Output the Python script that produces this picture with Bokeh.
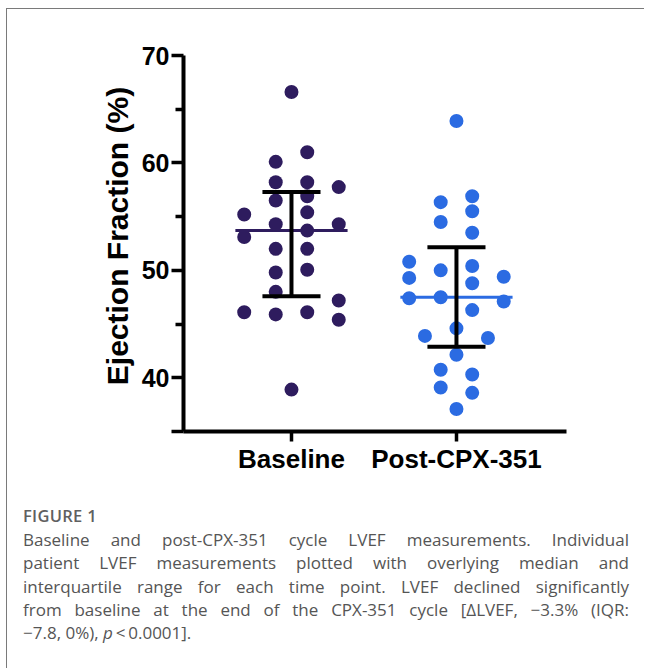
from bokeh.plotting import figure
from bokeh.models import FixedTicker, Div, ColumnDataSource
from bokeh.layouts import column
from bokeh.embed import file_html
from bokeh.resources import INLINE

# ---- data ----
categories = ["Baseline", "Post-CPX-351"]
baseline = [66.6, 61.0, 60.1, 58.2, 58.2, 57.75, 56.9, 56.5, 55.2, 55.4, 54.3, 54.3, 53.7,
            53.1, 52.0, 52.0, 50.05, 49.8, 48.0, 47.2, 46.1, 45.9, 46.1, 45.4, 38.9]
baseline_slot = [0, 1, -1, -1, 1, 3, 1, -1, -3, 1, -1, 3, 1,
                 -3, -1, 1, 1, -1, -1, 3, -3, -1, 1, 3, 0]
post = [63.9, 56.35, 56.9, 55.5, 54.5, 53.5, 50.8, 50.0, 50.4, 49.3, 48.8, 49.4, 47.4,
        47.5, 47.1, 46.3, 44.6, 43.9, 43.7, 42.15, 40.75, 40.3, 39.1, 38.6, 37.1]
post_slot = [0, -1, 1, 1, -1, 1, -3, -1, 1, -3, 1, 3, -3,
             -1, 3, 1, 0, -2, 2, 0, -1, 1, -1, 1, 0]
# [Q1, median, Q3]
baseline_stats = [47.6, 53.7, 57.3]
post_stats = [42.9, 47.5, 52.15]
y_ticks = [40, 50, 60, 70]
y_minor = [45, 55, 65]

colors = ["#2E1C5E", "#2B6BE2"]
slot_step = 0.0955
median_half = 0.34
cap_half = 0.176

p = figure(width=627, height=469, x_range=(0.3455, 2.667), y_range=(35, 70),
           output_backend="svg", toolbar_location=None,
           min_border_left=176, min_border_right=68, min_border_top=46, min_border_bottom=47)
p.grid.visible = False
p.outline_line_color = None
p.background_fill_color = "white"
p.border_fill_color = "white"

groups = [(1, baseline, baseline_slot, baseline_stats, colors[0]),
          (2, post, post_slot, post_stats, colors[1])]
for gx, vals, slots, stats, col in groups:
    src = ColumnDataSource(dict(x=[gx + s * slot_step for s in slots], y=vals))
    p.scatter("x", "y", source=src, size=14, color=col, line_color=None)
for gx, vals, slots, stats, col in groups:
    q1, med, q3 = stats
    p.segment(x0=[gx - median_half], y0=[med], x1=[gx + median_half], y1=[med],
              line_color=col, line_width=3)
    p.segment(x0=[gx, gx - cap_half, gx - cap_half], y0=[q1, q1, q3],
              x1=[gx, gx + cap_half, gx + cap_half], y1=[q3, q1, q3],
              line_color="black", line_width=4)

# y axis
ya = p.yaxis[0]
ya.ticker = FixedTicker(ticks=[35] + y_ticks, minor_ticks=y_minor)
ya.major_label_overrides = {35: ""}
ya.axis_line_width = 4
ya.axis_line_color = "black"
ya.major_tick_line_width = 3.5
ya.minor_tick_line_width = 3.5
ya.major_tick_out = 12
ya.major_tick_in = 0
ya.minor_tick_out = 8
ya.minor_tick_in = 0
ya.major_label_standoff = 2
ya.major_label_text_font = "Liberation Sans"
ya.major_label_text_font_style = "bold"
ya.major_label_text_font_size = "25px"
ya.major_label_text_color = "black"
ya.axis_label = "\u2002Ejection Fraction (%)"
ya.axis_label_text_font = "Liberation Sans"
ya.axis_label_text_font_style = "bold"
ya.axis_label_text_font_size = "30px"
ya.axis_label_text_color = "black"
ya.axis_label_standoff = 5

# x axis
xa = p.xaxis[0]
xa.ticker = FixedTicker(ticks=[1, 2], minor_ticks=[])
xa.major_label_overrides = {1: categories[0], 2: categories[1]}
xa.axis_line_width = 4
xa.axis_line_color = "black"
xa.major_tick_line_width = 3.5
xa.major_tick_out = 10
xa.major_tick_in = 0
xa.minor_tick_line_color = None
xa.major_label_standoff = 2
xa.major_label_text_font = "Liberation Sans"
xa.major_label_text_font_style = "bold"
xa.major_label_text_font_size = "26px"
xa.major_label_text_color = "black"

caption_lines = [
    "Baseline and post-CPX-351 cycle LVEF measurements. Individual",
    "patient LVEF measurements plotted with overlying median and",
    "interquartile range for each time point. LVEF declined significantly",
    "from baseline at the end of the CPX-351 cycle [\u0394LVEF, \u22123.3% (IQR:",
    "\u22127.8, 0%), <i>p</i>\u2009&lt;\u20090.0001].",
]
line_html = ""
for i, ln in enumerate(caption_lines):
    last = "left" if i == len(caption_lines) - 1 else "justify"
    line_html += ('<div style="text-align:justify;text-align-last:%s;white-space:nowrap;">%s</div>'
                  % (last, ln))
html = ('<div style="width:606px;margin-left:11px;padding-top:21px;font-family:\'Open Sans\';'
        'color:#555;">'
        '<div style="font-size:16.5px;font-weight:600;letter-spacing:0.3px;line-height:23px;color:#606060;">FIGURE 1</div>'
        '<div style="font-size:17px;line-height:23.3px;margin-top:1px;">' + line_html + '</div></div>')
cap = Div(text=html, width=627, height=182)

layout = column(p, cap, width=638, height=660,
                styles={"border-top": "1px solid #7a7a7a", "border-left": "1px solid #7a7a7a",
                        "margin-left": "6px", "margin-top": "8px"})

open("out.html", "w").write(file_html(layout, INLINE))
